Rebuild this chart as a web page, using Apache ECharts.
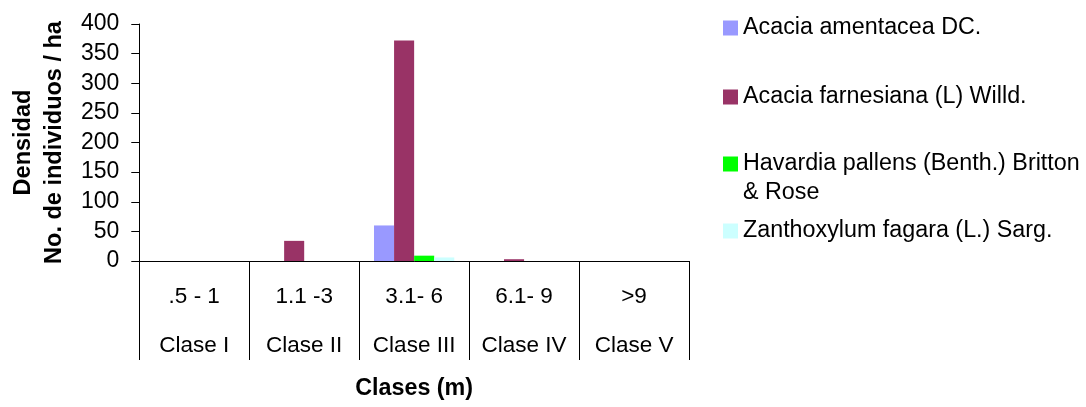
<!DOCTYPE html>
<html>
<head>
<meta charset="utf-8">
<script src="https://cdn.jsdelivr.net/npm/echarts@6/dist/echarts.min.js"></script>
<style>
  html, body { margin: 0; padding: 0; background: #fff; }
  #chart { width: 1086px; height: 407px; }
</style>
</head>
<body>
<div id="chart"></div>
<script>
// Height-class ranges (m) and class names shown under the x axis
const rangeLabels = ['.5 - 1', '1.1 -3', '3.1- 6', '6.1- 9', '>9'];
const classLabels = ['Clase I', 'Clase II', 'Clase III', 'Clase IV', 'Clase V'];

// Species names
const speciesNames = [
  'Acacia amentacea DC.',
  'Acacia farnesiana (L) Willd.',
  'Havardia pallens (Benth.) Britton & Rose',
  'Zanthoxylum fagara (L.) Sarg.'
];

// Density (individuals / ha) per class
const amentacea   = [0, 0, 60, 0, 0];
const farnesiana  = [0, 34, 372, 3, 0];
const havardia    = [0, 0, 9, 0, 0];
const zanthoxylum = [0, 0, 6, 0, 0];

// Y axis ticks
const yMin = 0, yMax = 400, yStep = 50;

const seriesValues = [amentacea, farnesiana, havardia, zanthoxylum];
const colors = ['#9999FF', '#993366', '#00FF00', '#CCFFFF'];
const FONT = "'Liberation Sans', Arial, sans-serif";

const chart = echarts.init(document.getElementById('chart'), null, { renderer: 'canvas' });

// One legend block per species so each entry sits at its own height.
// The two-line entry gets a blank leading line so its first line stays level with the swatch.
const legendTops = [15, 84, 120.5, 218];
const legends = speciesNames.map((name, i) => {
  const wrapped = i === 2;
  return {
    data: [name],
    orient: 'vertical',
    left: 723,
    top: legendTops[i],
    padding: 0,
    icon: 'rect',
    itemWidth: 15,
    itemHeight: 15,
    selectedMode: false,
    formatter: n => wrapped ? ' \n' + n.replace(' & ', '\n& ') : n,
    textStyle: {
      fontFamily: FONT,
      fontSize: 23.3,
      color: '#000',
      lineHeight: wrapped ? 29 : 26
    }
  };
});

const option = {
  backgroundColor: '#fff',
  animation: false,
  color: colors,
  textStyle: { fontFamily: FONT },
  legend: legends,
  grid: { left: 133, right: 397, top: 24, bottom: 138, containLabel: false },
  xAxis: {
    type: 'category',
    data: classLabels,
    boundaryGap: true,
    axisLine: { show: true, lineStyle: { color: '#000', width: 1 } },
    axisTick: { show: true, length: 99, interval: 0, lineStyle: { color: '#000', width: 1 } },
    axisLabel: {
      interval: 0,
      margin: 11.5,
      formatter: (value, idx) => '{r|' + rangeLabels[idx] + '}\n{c|' + classLabels[idx] + '}',
      rich: {
        r: { fontFamily: FONT, fontSize: 22.5, lineHeight: 49, color: '#000' },
        c: { fontFamily: FONT, fontSize: 22.5, lineHeight: 49, color: '#000' }
      }
    },
    name: 'Clases (m)',
    nameLocation: 'middle',
    nameGap: 115,
    nameTextStyle: { fontFamily: FONT, fontSize: 23.3, fontWeight: 'bold', color: '#000', lineHeight: 26 }
  },
  yAxis: {
    type: 'value',
    min: yMin,
    max: yMax,
    interval: yStep,
    axisLine: { show: true, lineStyle: { color: '#000', width: 1 } },
    axisTick: { show: true, inside: false, length: 8, lineStyle: { color: '#000', width: 1 } },
    splitLine: { show: false },
    axisLabel: { fontFamily: FONT, fontSize: 23, color: '#000', margin: 20 },
    name: 'Densidad\nNo. de individuos / ha',
    nameLocation: 'middle',
    nameRotate: 90,
    nameGap: 66,
    nameTextStyle: { fontFamily: FONT, fontSize: 23.5, fontWeight: 'bold', color: '#000', lineHeight: 31, align: 'center' }
  },
  series: speciesNames.map((name, i) => ({
    name: name,
    type: 'bar',
    data: seriesValues[i],
    barGap: '0%',
    barCategoryGap: '27%',
    itemStyle: { color: colors[i] },
    emphasis: { disabled: true }
  }))
};

chart.setOption(option);
</script>
</body>
</html>
